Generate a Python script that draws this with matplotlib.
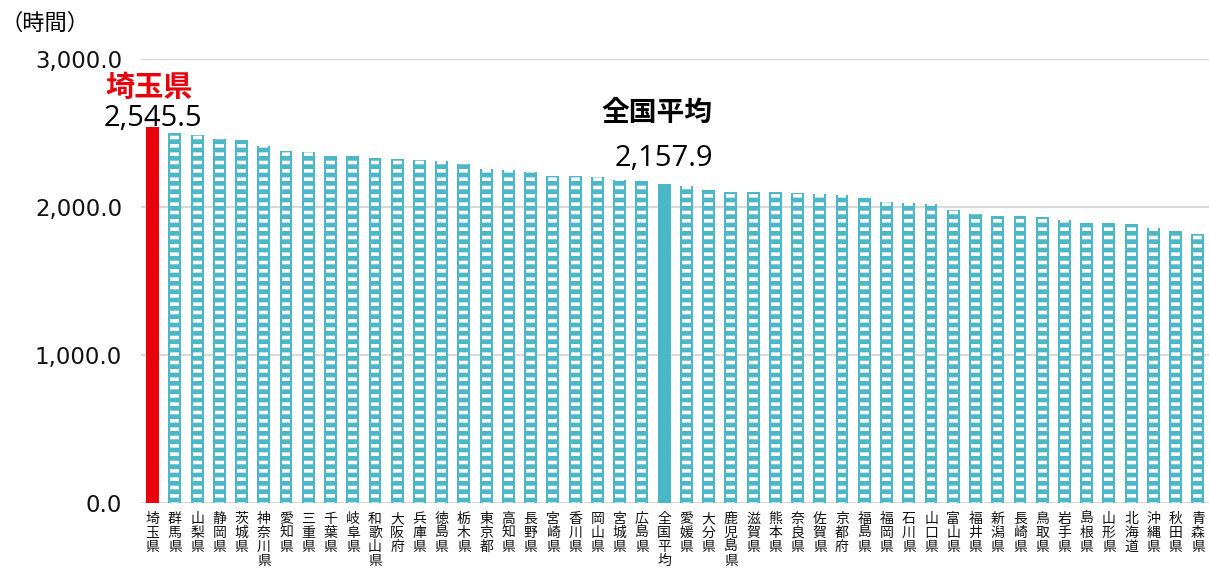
import matplotlib.pyplot as plt
import numpy as np

plt.rcParams['font.family'] = ['Noto Sans CJK JP', 'DejaVu Sans']

# データ（都道府県別の年間総実労働時間）
prefs = ['埼玉県', '群馬県', '山梨県', '静岡県', '茨城県', '神奈川県', '愛知県', '三重県',
         '千葉県', '岐阜県', '和歌山県', '大阪府', '兵庫県', '徳島県', '栃木県', '東京都',
         '高知県', '長野県', '宮崎県', '香川県', '岡山県', '宮城県', '広島県', '全国平均',
         '愛媛県', '大分県', '鹿児島県', '滋賀県', '熊本県', '奈良県', '佐賀県', '京都府',
         '福島県', '福岡県', '石川県', '山口県', '富山県', '福井県', '新潟県', '長崎県',
         '鳥取県', '岩手県', '島根県', '山形県', '北海道', '沖縄県', '秋田県', '青森県']
hours = [2545.5, 2500, 2486, 2461, 2457, 2412, 2380, 2374,
         2349, 2347, 2331, 2324, 2320, 2311, 2295, 2259,
         2252, 2237, 2213, 2209, 2203, 2184, 2180, 2157.9,
         2142, 2119, 2103, 2103, 2102, 2095, 2088, 2083,
         2065, 2034, 2031, 2020, 1980, 1955, 1943, 1939,
         1934, 1912, 1894, 1894, 1889, 1862, 1838, 1822]
yticks = [0, 1000, 2000, 3000]

TEAL = '#4BB7C7'
RED = '#E8000B'
NUMFONT = ['Open Sans', 'DejaVu Sans']

fig = plt.figure(figsize=(12.09, 5.76), dpi=100)
ax = fig.add_axes([0.117, 0.126, 0.883, 0.771])

x = np.arange(len(prefs))
colors = [RED if p == '埼玉県' else TEAL for p in prefs]
ax.bar(x, hours, width=0.58, color=colors, zorder=2)

# はしご模様（白い横線）
plt.rcParams['hatch.linewidth'] = 2.6
ladder = [h if p not in ('埼玉県', '全国平均') else 0 for p, h in zip(prefs, hours)]
ax.bar(x, ladder, width=0.40, facecolor='none', edgecolor='white',
       linewidth=0, hatch='--', zorder=3)

ax.set_xlim(-0.5, len(prefs) - 0.5)
ax.set_ylim(0, 3000)
ax.set_yticks(yticks)
ax.set_yticklabels(['{:,.1f}'.format(v) for v in yticks], fontsize=16.5,
                   color='#111111', family='DejaVu Sans')
ax.set_xticks(x)
ax.set_xticklabels(['\n'.join(p) for p in prefs], fontsize=10,
                   linespacing=1.0, va='top', color='#111111')
ax.tick_params(axis='both', length=0)
ax.tick_params(axis='y', pad=14)
ax.tick_params(axis='x', pad=6)
ax.grid(axis='y', color='#D9D9D9', linewidth=1.5, zorder=0)
for s in ax.spines.values():
    s.set_visible(False)

fig.text(0.0, 0.96, '（時間）', fontsize=16, va='center', ha='left')

i0 = prefs.index('埼玉県')
ax.text(i0 - 0.15, 2810, '埼玉県', color=RED, fontsize=21, fontweight='bold',
        ha='center', va='center')
ax.text(i0, 2600, '{:,.1f}'.format(hours[i0]), fontsize=21, ha='center',
        va='center', family=NUMFONT)
ia = prefs.index('全国平均')
ax.text(ia - 0.3, 2640, '全国平均', fontsize=20, fontweight='bold',
        ha='center', va='center')
ax.text(ia, 2330, '{:,.1f}'.format(hours[ia]), fontsize=21, ha='center',
        va='center', family=NUMFONT)

fig.savefig('out.png', dpi=100)
